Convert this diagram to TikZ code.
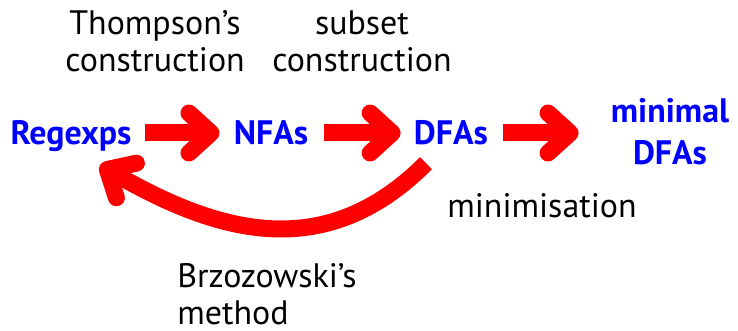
\documentclass[tikz,border=0pt]{standalone}
\usepackage{fontspec}
\setmainfont{PT Sans}
\usetikzlibrary{arrows.meta,positioning}
\definecolor{reBlue}{RGB}{0,0,255}
\definecolor{reRed}{RGB}{255,0,0}

\begin{document}
\begin{tikzpicture}[x=0.2mm,y=0.2mm,
    lang/.style={text=reBlue,font=\fontsize{19.3}{24.4}\selectfont\bfseries,
                 align=center,inner sep=0pt},
    capline/.style={text height=13.5pt,text depth=0pt},
    lbl/.style={font=\fontsize{19.3}{21.3}\selectfont,align=center,inner sep=0pt},
    arr/.style={draw=reRed,line width=3.4mm,
                -{Straight Barb[round,length=4.4mm,width=8mm]}}]
  \useasboundingbox (0,0) rectangle (738,-331);
  % the four languages
  \node[lang,capline] (re)  at (71,-133)  {Regexps};
  \node[lang,capline] (nfa) at (271,-133) {NFAs};
  \node[lang,capline] (dfa) at (451,-133) {DFAs};
  \node[lang,anchor=base] (min) at (670,-165) {minimal\\DFAs};
  % labels (base = last line)
  \node[lbl,anchor=base] (thom) at (155,-72) {Thompson's\\construction};
  \node[lbl,anchor=base] (sub)  at (362,-72) {subset\\construction};
  \node[lbl,anchor=base] (mini) at (542,-218) {minimisation};
  \node[lbl,align=left,anchor=base west] (brz) at (177,-325) {Brzozowski's\\method};
  % arrows
  \draw[arr,shorten <=2.6mm,shorten >=2.8mm] (re.east) -- (nfa.west);
  \draw[arr,shorten <=3mm,shorten >=2.6mm] (nfa.east) -- (dfa.west);
  \draw[arr,shorten <=3mm,shorten >=6.4mm] (dfa.east) -- (dfa.east -| min.west);
  \draw[arr] ([shift={(-25,-18)}]dfa.south) to[out=-135,in=-30,looseness=1.1]
    ([shift={(29,-20)}]re.south);
\end{tikzpicture}
\end{document}
